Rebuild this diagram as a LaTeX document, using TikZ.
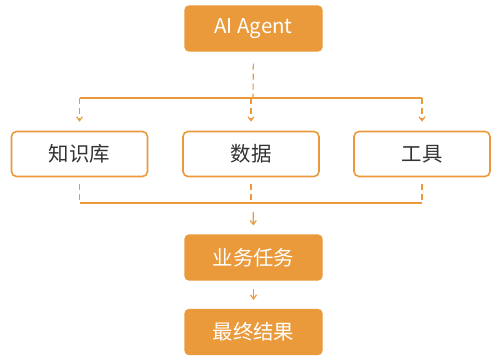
\documentclass[tikz,border=0pt]{standalone}
\usepackage{fontspec}
\setmainfont{Noto Sans CJK SC}
\usetikzlibrary{arrows.meta}
\definecolor{org}{HTML}{EA9A3B}
\definecolor{txt}{HTML}{333333}
\tikzset{
  solidbox/.style={draw=org, fill=org, rounded corners=4bp, line width=1.2bp, minimum width=137bp, minimum height=45bp, text=white, font=\fontsize{20.5}{24}\selectfont, inner sep=0pt},
  outbox/.style={draw=org, fill=white, rounded corners=5bp, line width=1.6bp, minimum width=136bp, minimum height=45bp, text=txt, font=\fontsize{20.5}{24}\selectfont, inner sep=0pt},
  dashline/.style={draw=org, line width=1.2bp, dash pattern=on 6bp off 4bp},
  busline/.style={draw=org, line width=1.2bp},
  arr/.style={-{Straight Barb[length=4bp,width=6bp]}},
}
\begin{document}
\begin{tikzpicture}[x=1bp,y=-1bp]
\useasboundingbox (0,0) rectangle (503,361);
\node[solidbox] (agent) at (253.5,28.5) {AI Agent};
\node[outbox] (kb) at (79.5,154) {知识库};
\node[outbox] (data) at (251,154) {数据};
\node[outbox] (tools) at (422,154) {工具};
\node[solidbox] (task) at (253.5,257.5) {业务任务};
\node[solidbox] (result) at (253.5,332) {最终结果};
\coordinate (tb) at (253,98);
\coordinate (bb) at (253,203);
\draw[dashline, shorten <=12bp] (agent.south) -- (tb);
\draw[busline] (tb -| kb) -- (tb -| tools);
\draw[dashline, arr, shorten >=9bp] (tb -| kb) -- (kb.north);
\draw[dashline, arr, shorten >=9bp] (tb -| data) -- (data.north);
\draw[dashline, arr, shorten >=9bp] (tb -| tools) -- (tools.north);
\draw[dashline, shorten <=7bp] (kb.south) -- (bb -| kb);
\draw[dashline, shorten <=7bp] (data.south) -- (bb -| data);
\draw[dashline, shorten <=7bp] (tools.south) -- (bb -| tools);
\draw[busline] (bb -| kb) -- (bb -| tools);
\draw[busline, arr, shorten >=9bp, shorten <=9bp] (bb) -- (task.north);
\draw[busline, arr, shorten >=9bp, shorten <=8bp] (task.south) -- (result.north);
\end{tikzpicture}
\end{document}
